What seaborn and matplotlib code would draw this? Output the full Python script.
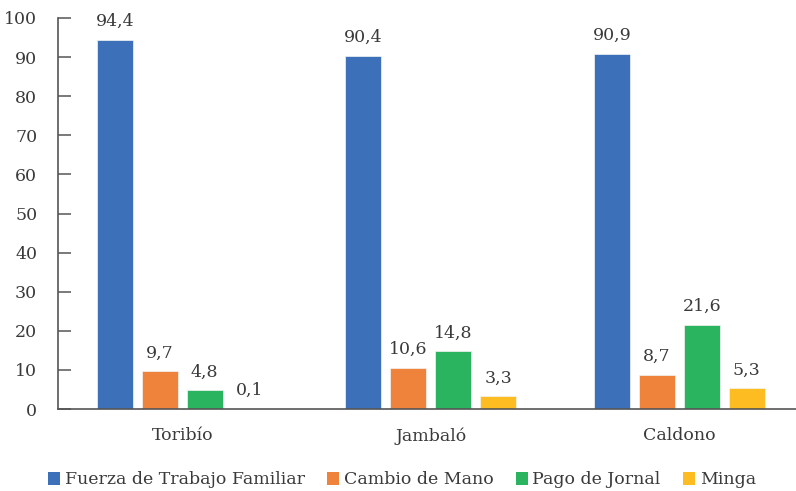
import matplotlib
matplotlib.use("Agg")
import matplotlib.pyplot as plt
from matplotlib.patches import Patch
import pandas as pd
import seaborn as sns

# Municipalities and labour types
municipios = ["Toribío", "Jambaló", "Caldono"]
tipos = ["Fuerza de Trabajo Familiar", "Cambio de Mano", "Pago de Jornal", "Minga"]

# Percentages per labour type, one list per series (order follows municipios)
fuerza_familiar = [94.4, 90.4, 90.9]
cambio_mano = [9.7, 10.6, 8.7]
pago_jornal = [4.8, 14.8, 21.6]
minga = [0.1, 3.3, 5.3]

y_ticks = [0, 10, 20, 30, 40, 50, 60, 70, 80, 90, 100]

colores = ["#3c70b9", "#f0833b", "#2ab45f", "#fdbd22"]
texto = "#3a3a3a"
eje = "#555555"
fs = 12.5

series = [fuerza_familiar, cambio_mano, pago_jornal, minga]
df = pd.DataFrame(
    [(m, t, v[i]) for t, v in zip(tipos, series) for i, m in enumerate(municipios)],
    columns=["municipio", "tipo", "valor"],
)

sns.set_theme(style="white")
plt.rcParams["font.family"] = ["DejaVu Serif"]

fig = plt.figure(figsize=(7.96, 4.91), dpi=100)
ax = fig.add_axes([58 / 796, 82 / 491, 745.5 / 796, 391 / 491])

sns.barplot(
    data=df, x="municipio", y="valor", hue="tipo",
    order=municipios, hue_order=tipos, palette=colores,
    width=0.724, gap=0.2, saturation=1, errorbar=None,
    edgecolor="#f4f4f4", linewidth=0.5, legend=False, ax=ax,
)

for cont in ax.containers:
    etiquetas = [f"{b.get_height():.1f}".replace(".", ",") for b in cont]
    ax.bar_label(cont, labels=etiquetas, padding=7, fontsize=fs, color=texto)

ax.set_xlim(-0.5, 2.5)
ax.set_ylim(0, 100)
ax.set_yticks(y_ticks)
ax.set_xlabel("")
ax.set_ylabel("")

for lado in ["top", "right"]:
    ax.spines[lado].set_visible(False)
for lado in ["left", "bottom"]:
    ax.spines[lado].set_color(eje)
    ax.spines[lado].set_linewidth(1.2)

ax.tick_params(axis="y", direction="in", length=9.5, width=1.1, color=eje,
               pad=15, labelsize=fs, labelcolor=texto, left=True)
ax.tick_params(axis="x", length=0, pad=13, labelsize=fs, labelcolor=texto)

handles = [Patch(facecolor=c, edgecolor="none") for c in colores]
fig.legend(
    handles, tipos, loc="center", bbox_to_anchor=(402 / 796, 1 - 480 / 491),
    ncol=4, frameon=False, fontsize=fs, labelcolor=texto,
    handlelength=0.7, handleheight=0.7, handletextpad=0.25,
    columnspacing=1.3, borderaxespad=0, borderpad=0,
)

fig.savefig("out.png", dpi=100)
